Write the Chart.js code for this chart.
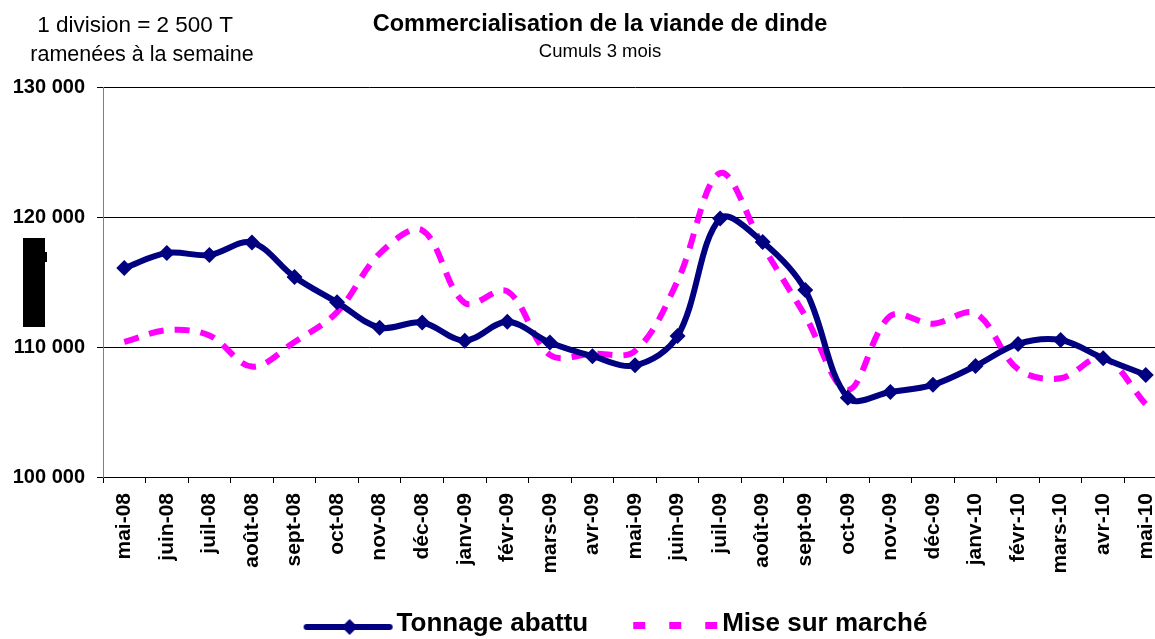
<!DOCTYPE html>
<html>
<head>
<meta charset="utf-8">
<script src="https://cdn.jsdelivr.net/npm/chart.js@4.4.1/dist/chart.umd.min.js"></script>
<style>
  html, body { margin: 0; padding: 0; background: #fff; overflow: hidden; }
  #wrap { width: 1155px; height: 639px; overflow: hidden; }
</style>
</head>
<body>
<div id="wrap"><canvas id="chart" width="1200" height="647"></canvas></div>
<script>
// Categories (months) and series
const months = ['mai-08', 'juin-08', 'juil-08', 'août-08', 'sept-08', 'oct-08', 'nov-08', 'déc-08',
    'janv-09', 'févr-09', 'mars-09', 'avr-09', 'mai-09', 'juin-09', 'juil-09', 'août-09', 'sept-09',
    'oct-09', 'nov-09', 'déc-09', 'janv-10', 'févr-10', 'mars-10', 'avr-10', 'mai-10'];
const tonnageAbattu = [116100, 117250, 117100, 118050, 115400, 113450, 111500, 111900, 110500, 111950,
    110350, 109300, 108600, 110850, 119900, 118100, 114400, 106100, 106550, 107100, 108550, 110250,
    110550, 109150, 107850];
const miseSurMarche = [110400, 111300, 110900, 108500, 110400, 112700, 117200, 119000, 113400, 114300,
    109400, 109500, 109700, 115100, 123400, 117800, 112400, 106700, 112400, 111800, 112600, 108300,
    107600, 109200, 105600];
const yTicks = [100000, 110000, 120000, 130000];

const FONT = '"Liberation Sans", Arial, sans-serif';
const NAVY = '#000080';
const PINK = '#FF00FF';

// legend samples drawn as small images
function lineSample() {
    const c = document.createElement('canvas');
    c.width = 131; c.height = 26;
    const g = c.getContext('2d');
    g.strokeStyle = NAVY; g.lineWidth = 6; g.lineCap = 'round';
    g.beginPath(); g.moveTo(44, 16); g.lineTo(127, 16); g.stroke();
    g.fillStyle = NAVY;
    g.beginPath(); g.moveTo(87, 8); g.lineTo(95, 16); g.lineTo(87, 24); g.lineTo(79, 16); g.closePath(); g.fill();
    return c;
}
function dashSample() {
    const c = document.createElement('canvas');
    c.width = 131; c.height = 26;
    const g = c.getContext('2d');
    g.fillStyle = PINK;
    [45, 81, 117].forEach(x => g.fillRect(x, 11, 12, 7));
    return c;
}

// texts in the top left corner + masked axis title
const extras = {
    id: 'extras',
    afterDraw(chart) {
        const ctx = chart.ctx;
        ctx.save();
        ctx.fillStyle = '#000';
        ctx.textAlign = 'center';
        ctx.textBaseline = 'alphabetic';
        ctx.font = '22.5px ' + FONT;
        ctx.fillText('1 division = 2 500 T', 135, 32);
        ctx.font = '21.5px ' + FONT;
        ctx.fillText('ramenées à la semaine', 142, 61);
        ctx.fillRect(23, 238, 22, 89);
        ctx.fillRect(45, 252, 2, 10);
        ctx.restore();
    }
};

new Chart(document.getElementById('chart'), {
    type: 'line',
    data: {
        labels: months,
        datasets: [{
            label: 'Tonnage abattu',
            data: tonnageAbattu,
            borderColor: NAVY,
            backgroundColor: NAVY,
            borderWidth: 6,
            tension: 0.35,
            pointStyle: 'rectRot',
            pointRadius: 8,
            pointBorderWidth: 0,
            order: 1
        }, {
            label: 'Mise sur marché',
            data: miseSurMarche,
            borderColor: PINK,
            backgroundColor: PINK,
            borderWidth: 6,
            borderDash: [15, 11],
            borderCapStyle: 'butt',
            tension: 0.35,
            pointRadius: 0,
            order: 2
        }]
    },
    options: {
        responsive: false,
        animation: false,
        layout: { padding: 0 },
        plugins: {
            title: {
                display: true,
                text: 'Commercialisation de la viande de dinde',
                color: '#000',
                font: { family: FONT, size: 23.5, weight: 'bold' },
                padding: { top: 10, bottom: 1 }
            },
            subtitle: {
                display: true,
                text: 'Cumuls 3 mois',
                color: '#000',
                font: { family: FONT, size: 18.5 },
                padding: { top: 2, bottom: 24 }
            },
            legend: {
                position: 'bottom',
                labels: {
                    color: '#000',
                    font: { family: FONT, size: 26, weight: 'bold' },
                    usePointStyle: true,
                    pointStyleWidth: 111,
                    padding: 10,
                    generateLabels: () => [
                        { text: 'Tonnage abattu', pointStyle: lineSample(), datasetIndex: 0, lineWidth: 0 },
                        { text: 'Mise sur marché', pointStyle: dashSample(), datasetIndex: 1, lineWidth: 0 }
                    ]
                }
            },
            tooltip: { enabled: false }
        },
        scales: {
            x: {
                offset: true,
                grid: { drawOnChartArea: false, drawTicks: true, tickLength: 6, color: '#000', offset: true },
                border: { color: '#000', width: 1 },
                ticks: {
                    color: '#000',
                    font: { family: FONT, size: 21, weight: 'bold' },
                    autoSkip: false,
                    maxRotation: 90,
                    minRotation: 90,
                    padding: 10
                },
                afterFit: s => { s.height = 124; }
            },
            y: {
                min: 100000,
                max: 130000,
                afterBuildTicks: s => { s.ticks = yTicks.map(v => ({ value: v })); },
                grid: { color: '#000', lineWidth: 1, tickLength: 6 },
                border: { color: '#808080', width: 1 },
                ticks: {
                    color: '#000',
                    font: { family: FONT, size: 20, weight: 'bold' },
                    padding: 12,
                    callback: v => v.toLocaleString('fr-FR').replace(/\s/g, ' ')
                },
                afterFit: s => { s.width = 103; }
            },
            // empty right-hand space: the plot runs past the picture's right edge
            spacer: {
                position: 'right',
                grid: { display: false },
                border: { display: false },
                ticks: { display: false },
                afterFit: s => { s.width = 33; }
            }
        }
    },
    plugins: [extras]
});
</script>
</body>
</html>
